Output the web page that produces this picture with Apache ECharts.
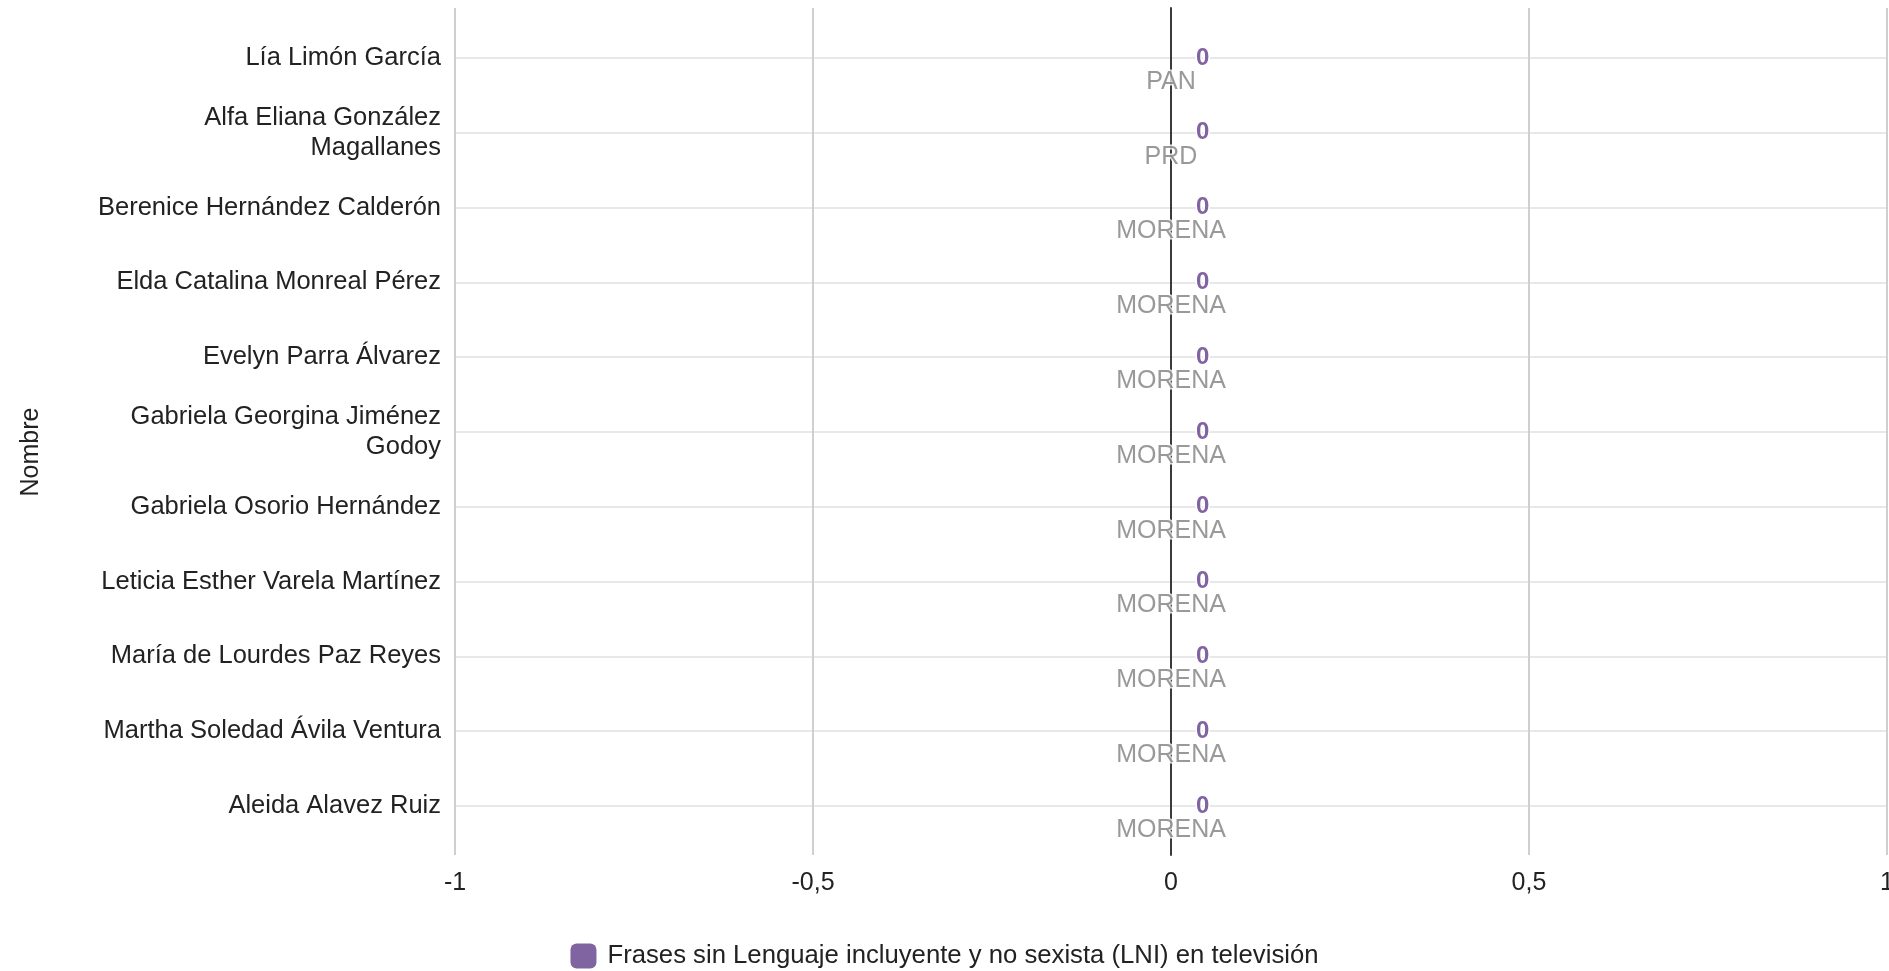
<!DOCTYPE html>
<html>
<head>
<meta charset="utf-8">
<script src="https://cdn.jsdelivr.net/npm/echarts@6/dist/echarts.min.js"></script>
<style>
html,body{margin:0;padding:0;background:#fff;}
#chart{width:1889px;height:971px;}
</style>
</head>
<body>
<div id="chart"></div>
<script>
const names = [
  'Lía Limón García',
  'Alfa Eliana González\nMagallanes',
  'Berenice Hernández Calderón',
  'Elda Catalina Monreal Pérez',
  'Evelyn Parra Álvarez',
  'Gabriela Georgina Jiménez\nGodoy',
  'Gabriela Osorio Hernández',
  'Leticia Esther Varela Martínez',
  'María de Lourdes Paz Reyes',
  'Martha Soledad Ávila Ventura',
  'Aleida Alavez Ruiz'
];
const values = [0, 0, 0, 0, 0, 0, 0, 0, 0, 0, 0];
const parties = ['PAN', 'PRD', 'MORENA', 'MORENA', 'MORENA', 'MORENA', 'MORENA', 'MORENA', 'MORENA', 'MORENA', 'MORENA'];
const seriesName = 'Frases sin Lenguaje incluyente y no sexista (LNI) en televisión';
const xMin = -1, xMax = 1, xInterval = 0.5;

const FONT = '"Liberation Sans", Arial, sans-serif';
const chart = echarts.init(document.getElementById('chart'));
chart.setOption({
  animation: false,
  textStyle: { fontFamily: FONT },
  grid: [
    { left: 455, right: 2, top: 8, bottom: 116, containLabel: false, outerBoundsMode: 'none' },
    { left: 455, right: 2, top: 58, bottom: 165, containLabel: false, outerBoundsMode: 'none' }
  ],
  legend: {
    data: [seriesName],
    top: 938,
    left: 'center',
    icon: 'roundRect',
    itemWidth: 26,
    itemHeight: 25,
    itemGap: 20,
    textStyle: { fontSize: 25.7, color: '#222', fontFamily: FONT, padding: [0, 0, 0, 6] }
  },
  xAxis: [
    {
      gridIndex: 0, type: 'value', min: xMin, max: xMax, interval: xInterval,
      axisLine: { show: false }, axisTick: { show: false },
      splitLine: { show: true, lineStyle: { color: '#cfcfcf', width: 2 } },
      axisLabel: { fontSize: 25, color: '#222', margin: 16, fontFamily: FONT,
        formatter: v => String(v).replace('.', ',') }
    },
    {
      gridIndex: 1, type: 'value', min: xMin, max: xMax, interval: xInterval,
      show: false
    }
  ],
  yAxis: [
    {
      gridIndex: 0, type: 'value', min: 0, max: 1,
      axisLine: { show: true, onZero: true, lineStyle: { color: '#3a3a3a', width: 2 } },
      axisTick: { show: false }, axisLabel: { show: false }, splitLine: { show: false }
    },
    {
      gridIndex: 1, type: 'category', data: names, inverse: true, boundaryGap: false,
      axisLine: { show: false }, axisTick: { show: false },
      splitLine: { show: true, lineStyle: { color: '#e8e8e8', width: 2 } },
      axisLabel: { fontSize: 25.5, color: '#222', margin: 14, lineHeight: 30, fontFamily: FONT },
      name: 'Nombre', nameLocation: 'middle', nameRotate: 90, nameGap: 411,
      nameTextStyle: { fontSize: 25, color: '#222', fontFamily: FONT, padding: [0, 40, 0, 0] }
    }
  ],
  series: [
    {
      name: seriesName, type: 'bar', xAxisIndex: 1, yAxisIndex: 1,
      data: values, barWidth: 30,
      itemStyle: { color: '#8064a2' },
      label: { show: true, position: 'right', distance: 25, fontSize: 24, fontWeight: 'bold',
        color: '#8064a2', fontFamily: FONT, textBorderColor: '#fff', textBorderWidth: 3 }
    },
    {
      name: 'Partido', type: 'scatter', xAxisIndex: 1, yAxisIndex: 1,
      data: parties.map((p, i) => ({ value: [0, i], party: p })),
      symbolSize: 1, itemStyle: { color: 'transparent' }, silent: true,
      label: { show: true, position: 'bottom', distance: 11, fontSize: 25, color: '#808080',
        fontFamily: FONT, textBorderColor: '#fff', textBorderWidth: 3,
        formatter: p => p.data.party }
    }
  ]
});
</script>
</body>
</html>
